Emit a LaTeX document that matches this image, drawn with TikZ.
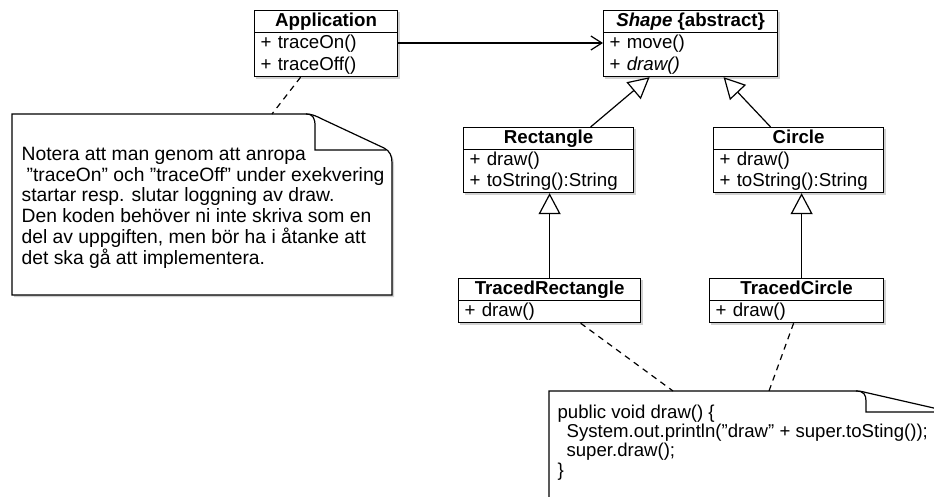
\documentclass[tikz,border=0pt]{standalone}
\usepackage{fontspec}
\setmainfont{Liberation Sans}
\usetikzlibrary{arrows.meta,calc,backgrounds}
\begin{document}
\begin{tikzpicture}[x=1pt,y=-1pt,
  line width=1.2pt,
  hdr/.style={draw, fill=white, inner sep=0pt, minimum height=22pt, text height=13.4pt, text depth=3.6pt,
    font=\fontsize{18.7}{21.5}\selectfont\bfseries, anchor=north west},
  bdy/.style={draw, fill=white, inner xsep=6pt, inner ysep=0pt, align=left,
    font=\fontsize{18.7}{21.5}\selectfont, anchor=north west},
  gen/.style={-{Triangle[open,length=21pt,width=22pt,fill=white]}},
  assoc/.style={-{Straight Barb[length=11pt,width=14pt]}},
  dep/.style={dash pattern=on 6pt off 5pt},
  shade/.style={fill=black!18, draw=none},
  notebox/.style={fill=white, draw}
]
\useasboundingbox (0,0) rectangle (934,497);
\clip (0,0) rectangle (934,497);

% ---------- note 1 ----------
\fill[shade, shift={(2,2)}] (12,114) -- (306,114) .. controls (312,114) and (316,116) .. (322,119) -- (384,148) .. controls (390,151) and (392,156) .. (392,163) -- (392,295) -- (12,295) -- cycle;
\path[notebox] (12,114) -- (306,114) .. controls (312,114) and (316,116) .. (322,119) -- (384,148) .. controls (390,151) and (392,156) .. (392,163) -- (392,295) -- (12,295) -- cycle;
\draw (306,114) .. controls (313,114) and (315,118) .. (315,126) -- (315,150) -- (386,150);
\coordinate (n1c) at (272,114);
\node[anchor=north west, inner sep=0pt, align=left, font=\fontsize{19.3}{20.8}\selectfont] (n1t) at (21,146.5)
 {Notera att man genom att anropa\\
  \hspace*{5pt}”traceOn” och ”traceOff” under exekvering\\
  startar resp. slutar loggning av draw.\\
  Den koden behöver ni inte skriva som en\\
  del av uppgiften, men bör ha i åtanke att\\
  det ska gå att implementera.};

% ---------- code note ----------
\fill[shade, shift={(2,2)}] (549,391) -- (856,391) .. controls (861,391) and (864,392) .. (868,393) -- (960,414) -- (960,520) -- (549,520) -- cycle;
\path[notebox] (549,391) -- (856,391) .. controls (861,391) and (864,392) .. (868,393) -- (960,414) -- (960,520) -- (549,520) -- cycle;
\draw (856,391) .. controls (864,391) and (866,395) .. (866,401) -- (866,412) -- (950,412);
\coordinate (cn1) at (673,391);
\coordinate (cn2) at (769,391);
\node[anchor=north west, inner sep=0pt, align=left, font=\fontsize{18.6}{19.2}\selectfont] (cnt) at (557,404.5)
 {public void draw() \{\\
  \hspace*{9pt}System.out.println(”draw” + super.toSting());\\
  \hspace*{9pt}super.draw();\\
  \}};

% ---------- classes ----------
\node[hdr, minimum width=143pt] (app) at (254,10) {Application};
\node[bdy, text width=131pt, minimum height=44pt] (appb) at (254,32) {+ traceOn()\\+ traceOff()};

\node[hdr, minimum width=174pt] (shp) at (603,10) {\textit{Shape} \{abstract\}};
\node[bdy, text width=162pt, minimum height=44pt] (shpb) at (603,32) {+ move()\\+ \textit{draw()}};

\node[hdr, minimum width=170pt] (rect) at (463,127) {Rectangle};
\node[bdy, text width=158pt, minimum height=43pt] (rectb) at (463,149) {+ draw()\\+ toString():String};

\node[hdr, minimum width=170pt] (circ) at (713,127) {Circle};
\node[bdy, text width=158pt, minimum height=43pt] (circb) at (713,149) {+ draw()\\+ toString():String};

\node[hdr, minimum width=182pt] (trect) at (458,278) {TracedRectangle};
\node[bdy, text width=170pt, minimum height=22pt, text height=13.4pt, text depth=3.6pt] (trectb) at (458,300) {+ draw()};

\node[hdr, minimum width=174pt] (tcirc) at (709,278) {TracedCircle};
\node[bdy, text width=162pt, minimum height=22pt, text height=13.4pt, text depth=3.6pt] (tcircb) at (709,300) {+ draw()};

\begin{scope}[on background layer]
  \foreach \h/\b in {app/appb, shp/shpb, rect/rectb, circ/circb, trect/trectb, tcirc/tcircb}
    \fill[shade] ([shift={(2,2)}]\h.north west) rectangle ([shift={(2,2)}]\b.south east);
\end{scope}

% ---------- connectors ----------
\coordinate (tcs) at ($(tcirc.north)+(5,0)$);
\draw[assoc] ($(appb.north east)+(0,11)$) -- ($(shpb.north west)+(0,11)$);
\draw[gen] ($(rect.north)+(42,0)$) -- ($(shpb.south)+(-41,0)$);
\draw[gen] ($(circ.north)+(-28,0)$) -- ($(shpb.south)+(33,0)$);
\draw[gen] (trect.north) -- (trect.north |- rectb.south);
\draw[gen] (tcs) -- (tcs |- circb.south);
\draw[dep] ($(appb.south)+(-25.5,0)$) -- (n1c);
\draw[dep] ($(trectb.south)+(31,0)$) -- (cn1);
\draw[dep] ($(tcircb.south)+(-3,0)$) -- (cn2);
\end{tikzpicture}
\end{document}
